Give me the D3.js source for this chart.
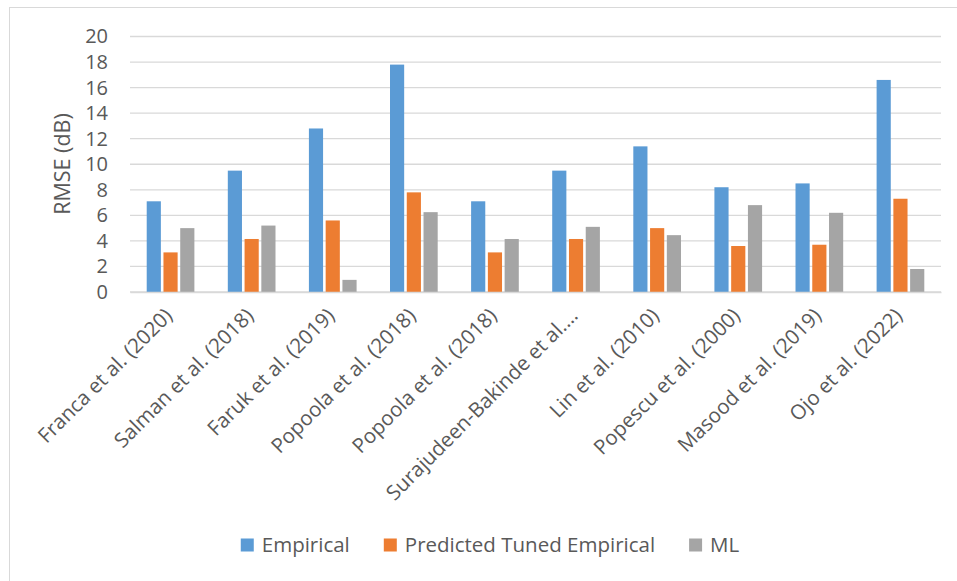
<!DOCTYPE html>
<html>
<head>
<meta charset="utf-8">
<script src="https://cdn.jsdelivr.net/npm/d3@7"></script>
<style>
  html, body { margin: 0; padding: 0; background: #fff; }
  svg { display: block; font-family: "Open Sans", "Liberation Sans", sans-serif; }
</style>
</head>
<body>
<svg id="chart" width="957" height="581"></svg>
<script>
// Studies compared
const categories = [
  "Franca et al. (2020)",
  "Salman et al. (2018)",
  "Faruk et al. (2019)",
  "Popoola et al. (2018)",
  "Popoola et al. (2018)",
  "Surajudeen-Bakinde et al.…",
  "Lin et al. (2010)",
  "Popescu et al. (2000)",
  "Masood et al. (2019)",
  "Ojo et al. (2022)"
];

// RMSE (dB) per study
const empirical      = [7.1, 9.5, 12.8, 17.8, 7.1, 9.5, 11.4, 8.2, 8.5, 16.6];
const tunedEmpirical = [3.1, 4.15, 5.6, 7.8, 3.1, 4.15, 5.0, 3.6, 3.7, 7.3];
const ml             = [5.0, 5.2, 0.95, 6.25, 4.15, 5.1, 4.45, 6.8, 6.2, 1.8];

const seriesNames  = ["Empirical", "Predicted Tuned Empirical", "ML"];
const seriesColors = ["#5b9bd5", "#ed7d31", "#a5a5a5"];
const yTicks = [0, 2, 4, 6, 8, 10, 12, 14, 16, 18, 20];

const seriesValues = [empirical, tunedEmpirical, ml];
const textColor = "#595959";
const gridColor = "#d9d9d9";

const svg = d3.select("#chart");

// Chart frame
svg.append("rect")
  .attr("x", 9.5).attr("y", 7.5)
  .attr("width", 1000).attr("height", 1000)
  .attr("fill", "none").attr("stroke", gridColor).attr("stroke-width", 1);

const plot = { left: 130, right: 941, top: 36.5, bottom: 292 };

const x0 = d3.scaleBand()
  .domain(d3.range(categories.length))
  .range([plot.left, plot.right])
  .paddingInner(0.38)
  .paddingOuter(0.19);

const x1 = d3.scaleBand()
  .domain(d3.range(seriesNames.length))
  .range([0, x0.bandwidth()]);

const y = d3.scaleLinear().domain([0, 20]).range([plot.bottom, plot.top]);

// Gridlines
svg.append("g")
  .selectAll("line")
  .data(yTicks)
  .join("line")
  .attr("x1", plot.left).attr("x2", plot.right)
  .attr("y1", d => y(d)).attr("y2", d => y(d))
  .attr("stroke", gridColor).attr("stroke-width", 1.3);

// Y axis labels
const yAxis = d3.axisLeft(y).tickValues(yTicks).tickSize(0).tickPadding(0);
const yg = svg.append("g").attr("transform", "translate(108,0)").call(yAxis);
yg.select(".domain").remove();
yg.selectAll("text")
  .attr("fill", textColor)
  .style("font-size", "20px")
  .style("font-family", "'Open Sans', sans-serif");

// Y axis title
svg.append("text")
  .attr("transform", "translate(70,164) rotate(-90)")
  .attr("text-anchor", "middle")
  .attr("fill", textColor)
  .style("font-size", "21.5px")
  .text("RMSE (dB)");

// Bars
const groups = svg.append("g")
  .selectAll("g")
  .data(categories.map((c, i) => i))
  .join("g")
  .attr("transform", i => `translate(${x0(i)},0)`);

const barInset = 1.3;
groups.selectAll("rect")
  .data(i => seriesValues.map((vals, s) => ({ s, v: vals[i] })))
  .join("rect")
  .attr("x", d => x1(d.s) + barInset)
  .attr("width", x1.bandwidth() - 2 * barInset)
  .attr("y", d => y(d.v))
  .attr("height", d => y(0) - y(d.v))
  .attr("fill", d => seriesColors[d.s]);

// Category axis
const xAxis = d3.axisBottom(x0).tickSize(0).tickFormat(i => categories[i]);
const xg = svg.append("g").attr("transform", `translate(0,${plot.bottom})`).call(xAxis);
xg.select(".domain")
  .attr("stroke", gridColor).attr("stroke-width", 1.3);
xg.selectAll(".tick text")
  .attr("fill", textColor)
  .style("font-size", "20.5px")
  .style("font-family", "'Open Sans', sans-serif")
  .attr("text-anchor", "end")
  .attr("x", 0).attr("y", 0).attr("dy", "0.35em")
  .attr("transform", "translate(-2,20) rotate(-45)");

// Legend
const legend = svg.append("g");
const items = legend.selectAll("g")
  .data(seriesNames)
  .join("g");
items.append("rect")
  .attr("width", 13).attr("height", 13)
  .attr("y", -13)
  .attr("fill", (d, i) => seriesColors[i]);
items.append("text")
  .attr("x", 21).attr("y", 0)
  .attr("fill", textColor)
  .style("font-size", "20.5px")
  .text(d => d);

let cursor = 0;
const itemGap = 34;
items.each(function () {
  const g = d3.select(this);
  const w = 21 + g.select("text").node().getComputedTextLength();
  g.attr("transform", `translate(${cursor},0)`);
  cursor += w + itemGap;
});
const legendWidth = cursor - itemGap;
legend.attr("transform", `translate(${490 - legendWidth / 2},551.5)`);
</script>
</body>
</html>
